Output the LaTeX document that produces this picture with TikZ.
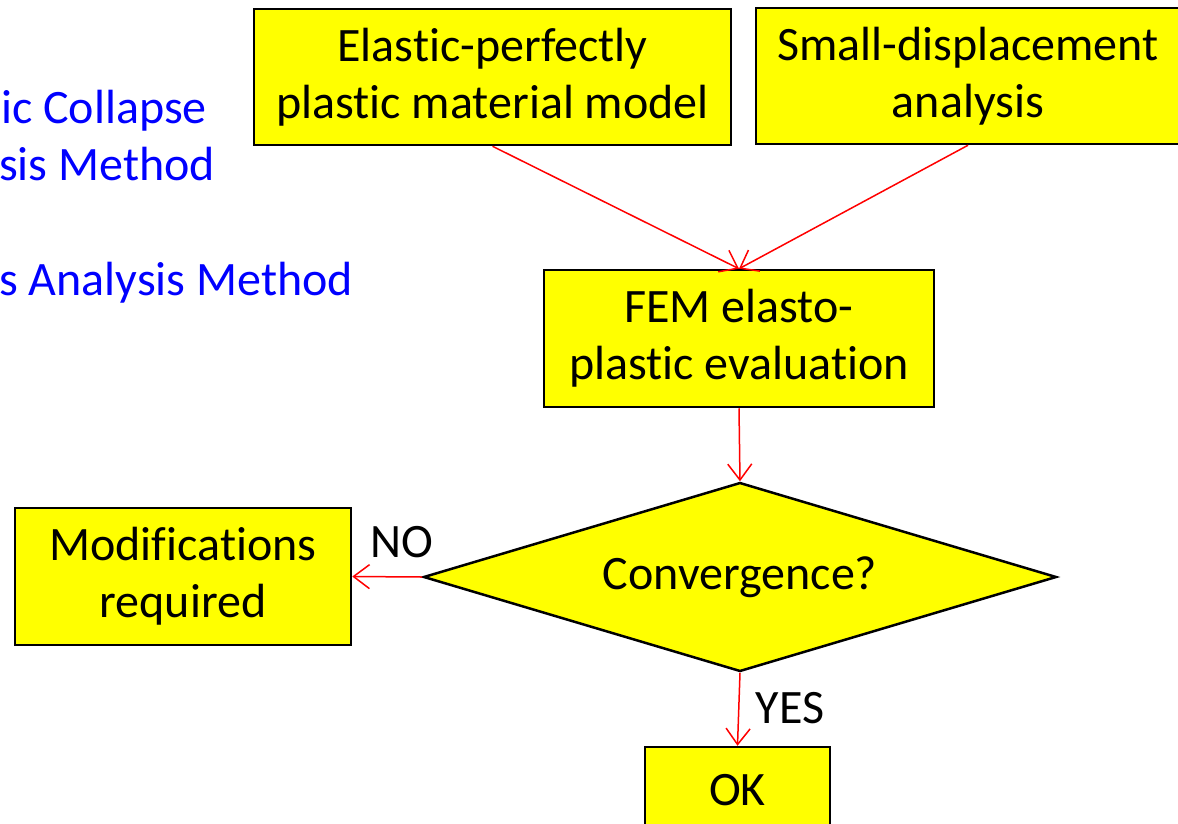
\documentclass[tikz,border=0pt]{standalone}
\usepackage{fontspec}
\setmainfont{Carlito}[RawFeature=-liga]
\usetikzlibrary{shapes.geometric,arrows.meta}
\definecolor{boxyellow}{RGB}{255,255,0}
\definecolor{noteblue}{RGB}{0,0,255}
\definecolor{flowred}{RGB}{255,0,0}

\begin{document}
\begin{tikzpicture}[
  x=1pt,y=-1pt,
  box/.style={rectangle,draw=black,fill=boxyellow,line width=2.5pt,inner sep=0pt,align=center,font=\fontsize{48}{57}\selectfont},
  decision/.style={diamond,draw=black,fill=boxyellow,line width=2.5pt,inner sep=0pt,aspect=3.35,font=\fontsize{48}{57}\selectfont},
  flow/.style={draw=flowred,line width=1.5pt,-{Straight Barb[length=16pt,width=24pt]}},
  lbl/.style={inner sep=0pt,font=\fontsize{48}{57}\selectfont},
  note/.style={inner sep=0pt,text=noteblue,anchor=base west,font=\fontsize{48}{57}\selectfont}
]
\clip (0,0) rectangle (1178,823);
\fill[white] (0,0) rectangle (1178,823);

\node[note] (n1) at (1,123) {ic Collapse};
\node[note] (n2) at (-1,180) {sis Method};
\node[note] (n3) at (-1,295) {s Analysis Method};

\node[box,minimum width=477pt,minimum height=136pt] (elastic) at (492.5,77) {Elastic-perfectly\\plastic material model};
\node[box,minimum width=424pt,minimum height=136pt] (smalldisp) at (968,76) {Small-displacement\\analysis};
\node[box,minimum width=390pt,minimum height=137pt] (fem) at (739,338.5) {FEM elasto-\\plastic evaluation};
\node[decision,minimum width=633pt,minimum height=189pt] (conv) at (740,577) {Convergence?};
\node[box,minimum width=336pt,minimum height=137pt] (modif) at (183,576.5) {Modifications\\required};
\node[box,minimum width=185pt,minimum height=86pt] (ok) at (737.5,790) {OK};

\draw[flow] (elastic.south) -- (fem.north);
\draw[flow] (smalldisp.south) -- (fem.north);
\draw[flow] (fem.south) -- (conv.north);
\draw[flow] (conv.west) -- (modif.east);
\draw[flow] (conv.south) -- (ok.north);

\node[lbl] (no) at (402,542) {NO};
\node[lbl] (yes) at (790,708) {YES};
\end{tikzpicture}
\end{document}
